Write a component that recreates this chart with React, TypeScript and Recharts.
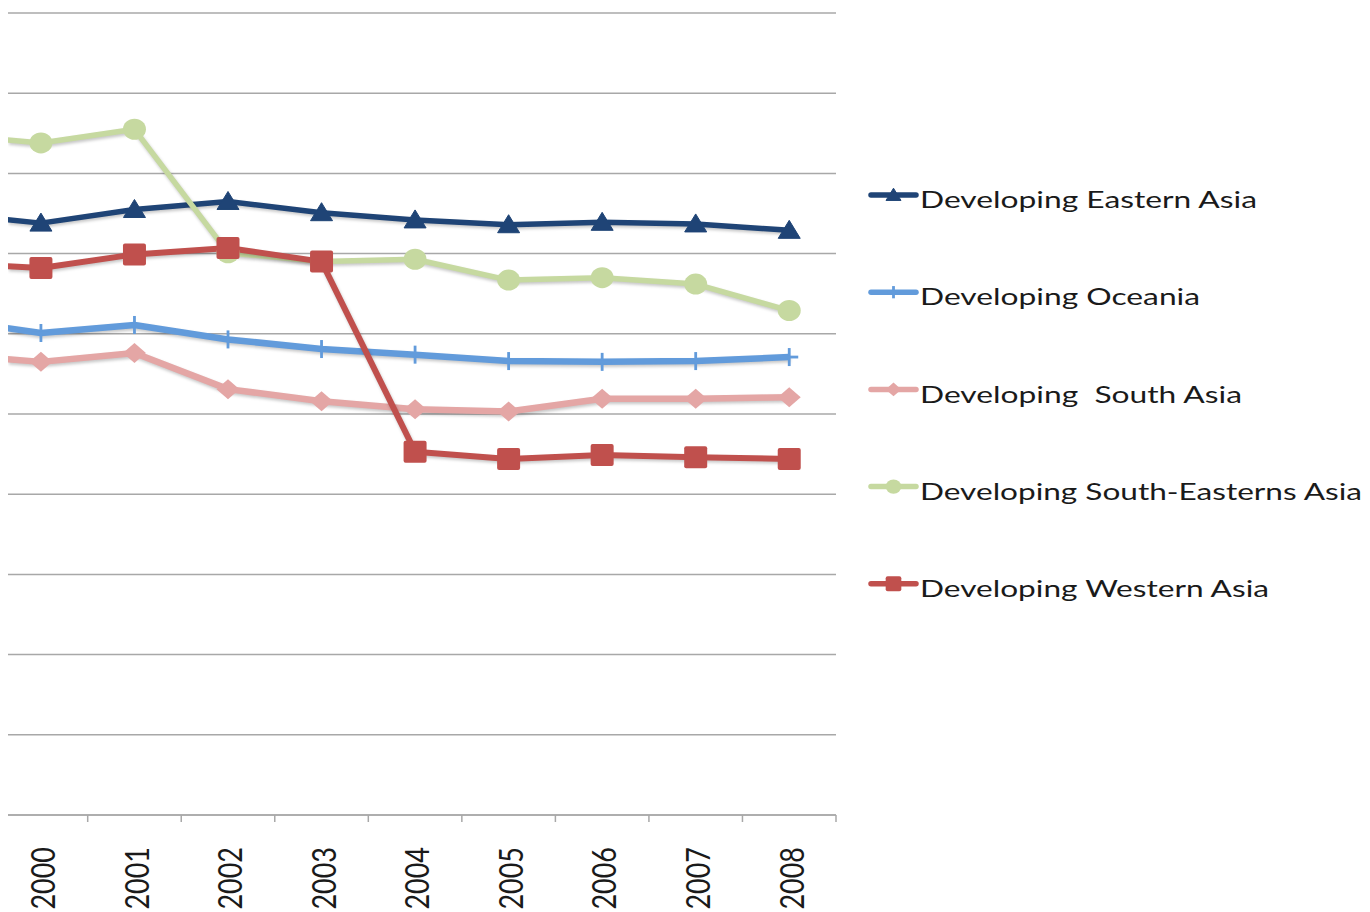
import React from 'react';
import { LineChart, Line, XAxis, YAxis, CartesianGrid, Legend } from 'recharts';

// values (the first year is cut off at the left edge)
const years = [1999, 2000, 2001, 2002, 2003, 2004, 2005, 2006, 2007, 2008];
const easternAsia = [75.0, 73.8, 75.5, 76.5, 75.1, 74.2, 73.6, 73.9, 73.7, 72.9];
const oceania = [61.8, 60.1, 61.1, 59.3, 58.1, 57.4, 56.6, 56.5, 56.6, 57.1];
const southAsia = [57.4, 56.5, 57.6, 53.1, 51.6, 50.6, 50.3, 51.9, 51.9, 52.1];
const southEasternAsia = [84.8, 83.8, 85.5, 70.1, 69.0, 69.3, 66.7, 67.0, 66.2, 62.9];
const westernAsia = [68.8, 68.2, 69.9, 70.7, 69.0, 45.3, 44.4, 44.9, 44.6, 44.4];

const yearTicks = [2000, 2001, 2002, 2003, 2004, 2005, 2006, 2007, 2008];
const boundaryTicks = [2000.5, 2001.5, 2002.5, 2003.5, 2004.5, 2005.5, 2006.5, 2007.5, 2008.5];
const valueTicks = [0, 10, 20, 30, 40, 50, 60, 70, 80, 90, 100];
const xDomain: [number, number] = [1999.648, 2008.5];
const xTicks = [...yearTicks, ...boundaryTicks].sort((a, b) => a - b);

type Kind = 'triangle' | 'plus' | 'diamond' | 'circle' | 'square';

const series: { key: string; name: string; color: string; kind: Kind; width: number; textLength: number }[] = [
  { key: 'eastern', name: 'Developing Eastern Asia', color: '#1F4476', kind: 'triangle', width: 5.5, textLength: 337 },
  { key: 'oceania', name: 'Developing Oceania', color: '#629BDB', kind: 'plus', width: 6.5, textLength: 280 },
  { key: 'south', name: 'Developing  South Asia', color: '#E4A6A5', kind: 'diamond', width: 6.5, textLength: 322 },
  { key: 'southEast', name: 'Developing South-Easterns Asia', color: '#C6D9A0', kind: 'circle', width: 5.5, textLength: 442 },
  { key: 'western', name: 'Developing Western Asia', color: '#C0504D', kind: 'square', width: 6, textLength: 349 },
];

const data = years.map((year, i) => ({
  year,
  eastern: easternAsia[i],
  oceania: oceania[i],
  south: southAsia[i],
  southEast: southEasternAsia[i],
  western: westernAsia[i],
}));

const FONT = 'Lato, "Open Sans", sans-serif';
const GRID = '#a8a8a8';

function Marker({ kind, cx, cy, color, s = 1 }: { kind: Kind; cx: number; cy: number; color: string; s?: number }) {
  switch (kind) {
    case 'triangle':
      return (
        <polygon
          points={`${cx},${cy - 10 * s} ${cx + 11 * s},${cy + 8 * s} ${cx - 11 * s},${cy + 8 * s}`}
          fill={color}
          stroke={color}
          strokeLinejoin="round"
        />
      );
    case 'plus':
      return (
        <g fill={color}>
          <rect x={cx - 1.4} y={cy - 9 * s} width={2.8} height={18 * s} />
          <rect x={cx - 9 * s} y={cy - 1.4} width={18 * s} height={2.8} />
        </g>
      );
    case 'diamond':
      return (
        <polygon
          points={`${cx},${cy - 10 * s} ${cx + 11.5 * s},${cy} ${cx},${cy + 10 * s} ${cx - 11.5 * s},${cy}`}
          fill={color}
        />
      );
    case 'circle':
      return <ellipse cx={cx} cy={cy} rx={11.5 * s} ry={10.5 * s} fill={color} />;
    case 'square':
    default:
      return <rect x={cx - 11.5 * s} y={cy - 11 * s} width={23 * s} height={22 * s} rx={2} fill={color} />;
  }
}

const makeDot = (kind: Kind, color: string) => (props: any) => {
  const { cx, cy, index } = props;
  if (cx == null || cy == null) return <g key={`${kind}-${index}`} />;
  return (
    <g key={`${kind}-${index}`}>
      <Marker kind={kind} cx={cx} cy={cy} color={color} />
    </g>
  );
};

const EmptyTick = () => <g />;

// integer ticks carry the year label, half-year ticks are the category boundary marks
const YearTick = (props: any) => {
  const { x, y, payload } = props;
  if (!Number.isInteger(payload.value)) {
    return <line x1={x} x2={x} y1={y} y2={y + 7} stroke={GRID} strokeWidth={1.5} />;
  }
  return (
    <g transform={`translate(${x},${y})`}>
      <text
        transform="scale(1.22,1) rotate(-90)"
        x={-32}
        y={11.7}
        textAnchor="end"
        fontFamily={FONT}
        fontSize={27}
        fill="#1a1a1a"
      >
        {payload.value}
      </text>
    </g>
  );
};

const renderLegend = () => (
  <svg width={510} height={440} style={{ display: 'block' }}>
    {series.map((s, i) => {
      const lineY = 25 + i * 97.2;
      const baseY = 38 + i * 97.3;
      return (
        <g key={s.key}>
          <line x1={11} x2={56} y1={lineY} y2={lineY} stroke={s.color} strokeWidth={5.5} strokeLinecap="round" />
          <Marker kind={s.kind} cx={33.5} cy={lineY} color={s.color} s={0.68} />
          <text
            x={60}
            y={baseY}
            fontFamily={FONT}
            fontSize={24}
            fill="#1a1a1a"
            textLength={s.textLength}
            lengthAdjust="spacingAndGlyphs"
            style={{ whiteSpace: 'pre' }}
          >
            {s.name}
          </text>
        </g>
      );
    })}
  </svg>
);

export default function App() {
  return (
    <div style={{ width: 1362, height: 904, overflow: 'hidden', background: '#fff' }}>
      <style>{`.xl-shadow { filter: drop-shadow(1.5px 2.5px 1.5px rgba(0,0,0,0.22)); }`}</style>
      <LineChart width={1362} height={904} data={data} margin={{ top: 5, right: 534, left: 0, bottom: 0 }}>
        <CartesianGrid vertical={false} horizontalValues={valueTicks} stroke={GRID} strokeWidth={1.5} />
        <YAxis
          domain={[0, 100]}
          ticks={valueTicks}
          width={0}
          axisLine={false}
          tickLine={false}
          tick={<EmptyTick />}
        />
        <XAxis
          dataKey="year"
          type="number"
          domain={xDomain}
          allowDataOverflow
          ticks={xTicks}
          height={97}
          axisLine={{ stroke: GRID, strokeWidth: 1.5 }}
          tickLine={false}
          tickSize={0}
          tickMargin={0}
          interval={0}
          tick={<YearTick />}
        />
        <Legend
          layout="vertical"
          align="center"
          verticalAlign="middle"
          content={renderLegend}
          wrapperStyle={{ left: 852, top: 162, width: 510, height: 440 }}
        />
        {series.map((s) => (
          <Line
            key={s.key}
            type="linear"
            dataKey={s.key}
            name={s.name}
            stroke={s.color}
            strokeWidth={s.width}
            strokeLinejoin="round"
            dot={makeDot(s.kind, s.color)}
            activeDot={false}
            className="xl-shadow"
            isAnimationActive={false}
          />
        ))}
      </LineChart>
    </div>
  );
}
